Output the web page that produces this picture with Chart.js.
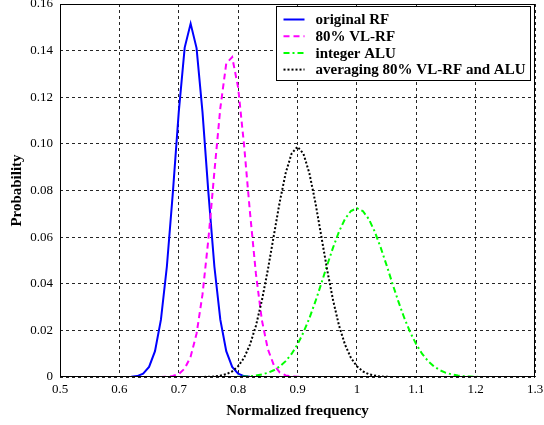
<!DOCTYPE html>
<html>
<head>
<meta charset="utf-8">
<script src="https://cdn.jsdelivr.net/npm/chart.js@4.4.1/dist/chart.umd.min.js"></script>
<style>
  html, body { margin: 0; padding: 0; background: #fff; }
  canvas { display: block; }
</style>
</head>
<body>
<canvas id="chart" width="544" height="425"></canvas>
<script>
// Normalized frequency, 0.50 .. 1.30 in 0.01 steps
const freq = [
  0.50, 0.51, 0.52, 0.53, 0.54, 0.55, 0.56, 0.57, 0.58, 0.59,
  0.60, 0.61, 0.62, 0.63, 0.64, 0.65, 0.66, 0.67, 0.68, 0.69,
  0.70, 0.71, 0.72, 0.73, 0.74, 0.75, 0.76, 0.77, 0.78, 0.79,
  0.80, 0.81, 0.82, 0.83, 0.84, 0.85, 0.86, 0.87, 0.88, 0.89,
  0.90, 0.91, 0.92, 0.93, 0.94, 0.95, 0.96, 0.97, 0.98, 0.99,
  1.00, 1.01, 1.02, 1.03, 1.04, 1.05, 1.06, 1.07, 1.08, 1.09,
  1.10, 1.11, 1.12, 1.13, 1.14, 1.15, 1.16, 1.17, 1.18, 1.19,
  1.20, 1.21, 1.22, 1.23, 1.24, 1.25, 1.26, 1.27, 1.28, 1.29,
  1.30
];

const originalRF = [
  0, 0, 0, 0, 0, 0, 0, 0, 0, 0,
  0, 0, 0.0001, 0.0004, 0.0014, 0.0043, 0.0111, 0.0246, 0.0474, 0.0789,
  0.1136, 0.1413, 0.1516, 0.1411, 0.1136, 0.0789, 0.0474, 0.0246, 0.0111, 0.0043,
  0.0014, 0.0004, 0.0001, 0, 0, 0, 0, 0, 0, 0,
  0, 0, 0, 0, 0, 0, 0, 0, 0, 0,
  0, 0, 0, 0, 0, 0, 0, 0, 0, 0,
  0, 0, 0, 0, 0, 0, 0, 0, 0, 0,
  0, 0, 0, 0, 0, 0, 0, 0, 0, 0,
  0
];

const vlrf80 = [
  0, 0, 0, 0, 0, 0, 0, 0, 0, 0,
  0, 0, 0, 0, 0, 0, 0, 0, 0.0001, 0.0004,
  0.0013, 0.0036, 0.0087, 0.0186, 0.0354, 0.0593, 0.0880, 0.1153, 0.1345, 0.1372,
  0.1242, 0.0995, 0.0705, 0.0442, 0.0244, 0.0120, 0.0052, 0.0020, 0.0007, 0.0002,
  0.0001, 0, 0, 0, 0, 0, 0, 0, 0, 0,
  0, 0, 0, 0, 0, 0, 0, 0, 0, 0,
  0, 0, 0, 0, 0, 0, 0, 0, 0, 0,
  0, 0, 0, 0, 0, 0, 0, 0, 0, 0,
  0
];

const integerALU = [
  0, 0, 0, 0, 0, 0, 0, 0, 0, 0,
  0, 0, 0, 0, 0, 0, 0, 0, 0, 0,
  0, 0, 0, 0, 0, 0, 0, 0, 0, 0,
  0.0001, 0.0002, 0.0003, 0.0006, 0.0011, 0.0018, 0.0029, 0.0045, 0.0068, 0.0099,
  0.0140, 0.0191, 0.0252, 0.0323, 0.0400, 0.0480, 0.0556, 0.0624, 0.0678, 0.0712,
  0.0724, 0.0712, 0.0678, 0.0624, 0.0556, 0.0480, 0.0400, 0.0323, 0.0252, 0.0191,
  0.0140, 0.0099, 0.0068, 0.0045, 0.0029, 0.0018, 0.0011, 0.0006, 0.0003, 0.0002,
  0.0001, 0, 0, 0, 0, 0, 0, 0, 0, 0,
  0
];

const averaging = [
  0, 0, 0, 0, 0, 0, 0, 0, 0, 0,
  0, 0, 0, 0, 0, 0, 0, 0, 0, 0,
  0, 0, 0, 0, 0, 0.0001, 0.0002, 0.0006, 0.0012, 0.0024,
  0.0046, 0.0082, 0.0139, 0.0220, 0.0328, 0.0459, 0.0605, 0.0750, 0.0874, 0.0958,
  0.0988, 0.0958, 0.0874, 0.0750, 0.0605, 0.0459, 0.0328, 0.0220, 0.0139, 0.0082,
  0.0046, 0.0024, 0.0012, 0.0006, 0.0002, 0.0001, 0, 0, 0, 0,
  0, 0, 0, 0, 0, 0, 0, 0, 0, 0,
  0, 0, 0, 0, 0, 0, 0, 0, 0, 0,
  0
];

const seriesNames = ['original RF', '80% VL-RF', 'integer ALU', 'averaging 80% VL-RF and ALU'];

const xTicks = [0.5, 0.6, 0.7, 0.8, 0.9, 1.0, 1.1, 1.2, 1.3];
const xTickLabels = ['0.5', '0.6', '0.7', '0.8', '0.9', '1', '1.1', '1.2', '1.3'];
const yTicks = [0, 0.02, 0.04, 0.06, 0.08, 0.10, 0.12, 0.14, 0.16];
const yTickLabels = ['0', '0.02', '0.04', '0.06', '0.08', '0.10', '0.12', '0.14', '0.16'];

const FONT = '"Liberation Serif", "Times New Roman", serif';

function toPoints(values) {
    return values.map((v, i) => ({ x: freq[i], y: v }));
}

// Plot frame and the boxed legend inside the plot (MATLAB style)
const frameAndLegend = {
    id: 'frameAndLegend',
    afterDatasetsDraw(chart) {
        const { ctx, chartArea: a } = chart;
        ctx.save();

        ctx.strokeStyle = '#000';
        ctx.lineWidth = 1;
        ctx.setLineDash([]);
        const l = Math.round(a.left) + 0.5, t = Math.round(a.top) + 0.5;
        const r = Math.round(a.right) - 0.5, b = Math.round(a.bottom) - 0.5;
        ctx.strokeRect(l, t, r - l, b - t);

        ctx.font = 'bold 15px ' + FONT;
        const sets = chart.data.datasets;
        const textW = Math.max(...sets.map(d => ctx.measureText(d.label).width));
        const rowH = 16.7;
        const w = Math.round(39 + textW + 5);
        const h = Math.round(rowH * sets.length + 7);
        const x0 = Math.round(a.right - 5 - w) + 0.5;
        const y0 = Math.round(a.top + 2) + 0.5;

        ctx.fillStyle = '#fff';
        ctx.fillRect(x0, y0, w, h);
        ctx.strokeStyle = '#000';
        ctx.strokeRect(x0, y0, w, h);

        sets.forEach((d, i) => {
            const cy = y0 + 13 + i * rowH;
            ctx.beginPath();
            ctx.strokeStyle = d.borderColor;
            ctx.lineWidth = d.borderWidth;
            ctx.setLineDash(d.borderDash || []);
            ctx.moveTo(x0 + 7, cy);
            ctx.lineTo(x0 + 28, cy);
            ctx.stroke();
            ctx.setLineDash([]);
            ctx.fillStyle = '#000';
            ctx.textBaseline = 'middle';
            ctx.textAlign = 'left';
            ctx.fillText(d.label, x0 + 39, cy + 1);
        });
        ctx.restore();
    }
};

new Chart(document.getElementById('chart'), {
    type: 'line',
    data: {
        datasets: [
            {
                label: seriesNames[0],
                data: toPoints(originalRF),
                borderColor: '#0000ff',
                borderWidth: 2,
                order: 4
            },
            {
                label: seriesNames[1],
                data: toPoints(vlrf80),
                borderColor: '#ff00ff',
                borderWidth: 2,
                borderDash: [6, 4],
                order: 3
            },
            {
                label: seriesNames[2],
                data: toPoints(integerALU),
                borderColor: '#00ff00',
                borderWidth: 2,
                borderDash: [6, 3, 2, 3],
                order: 2
            },
            {
                label: seriesNames[3],
                data: toPoints(averaging),
                borderColor: '#000000',
                borderWidth: 2,
                borderDash: [2, 2],
                order: 1
            }
        ]
    },
    options: {
        responsive: false,
        animation: false,
        devicePixelRatio: 1,
        layout: { padding: { top: 4, right: 9, left: 0, bottom: 0 } },
        elements: {
            point: { radius: 0 },
            line: { tension: 0, fill: false }
        },
        plugins: {
            legend: { display: false },
            tooltip: { enabled: false }
        },
        scales: {
            x: {
                type: 'linear',
                min: 0.5,
                max: 1.3,
                afterBuildTicks: scale => { scale.ticks = xTicks.map(v => ({ value: v })); },
                afterFit: scale => {
                    scale.height = 48;
                    scale.paddingLeft = 0;
                    scale.paddingRight = 0;
                },
                ticks: {
                    callback: (v, i) => xTickLabels[i],
                    color: '#000',
                    font: { family: FONT, size: 13 },
                    padding: 5,
                    maxRotation: 0
                },
                grid: {
                    color: 'rgba(0,0,0,0.85)',
                    lineWidth: 1,
                    drawTicks: false
                },
                border: { display: false, dash: [3, 3] },
                title: {
                    display: true,
                    text: 'Normalized frequency',
                    color: '#000',
                    font: { family: FONT, size: 15, weight: 'bold' },
                    padding: { top: 0, bottom: 5 }
                }
            },
            y: {
                min: 0,
                max: 0.16,
                afterBuildTicks: scale => { scale.ticks = yTicks.map(v => ({ value: v })); },
                afterFit: scale => {
                    scale.width = 60;
                    scale.paddingTop = 0;
                    scale.paddingBottom = 0;
                },
                ticks: {
                    callback: (v, i) => yTickLabels[i],
                    color: '#000',
                    font: { family: FONT, size: 13 },
                    padding: 7
                },
                grid: {
                    color: 'rgba(0,0,0,0.85)',
                    lineWidth: 1,
                    drawTicks: false
                },
                border: { display: false, dash: [3, 3] },
                title: {
                    display: true,
                    text: 'Probability',
                    color: '#000',
                    font: { family: FONT, size: 15, weight: 'bold' },
                    padding: { top: 8, bottom: 0 }
                }
            }
        }
    },
    plugins: [frameAndLegend]
});
</script>
</body>
</html>
